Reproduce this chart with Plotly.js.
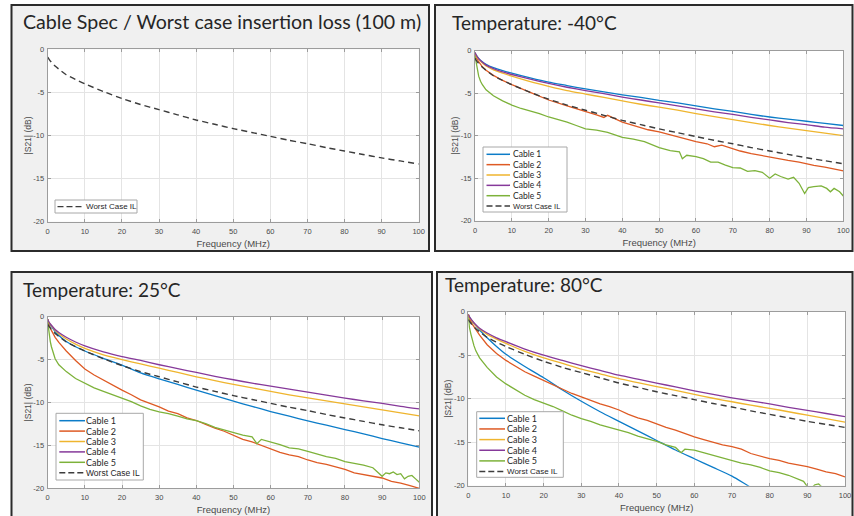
<!DOCTYPE html>
<html>
<head>
<meta charset="utf-8">
<script src="https://cdn.plot.ly/plotly-3.0.1.min.js"></script>
<style>html,body{margin:0;padding:0;background:#fff;}#chart{width:854px;height:516px;}</style>
</head>
<body>
<div id="chart"></div>
<script>
// ---------------- data ----------------
const seriesNames = ['Cable 1', 'Cable 2', 'Cable 3', 'Cable 4', 'Cable 5', 'Worst Case IL'];
const panelTitles = ['Cable Spec / Worst case insertion loss (100 m)', 'Temperature: -40°C', 'Temperature: 25°C', 'Temperature: 80°C'];
const xAxisTitle = 'Frequency (MHz)';
const yAxisTitle = '|S21| (dB)';
const xTickVals = [0, 10, 20, 30, 40, 50, 60, 70, 80, 90, 100];
const yTickVals = [-20, -15, -10, -5, 0];
const yTickText = ['-20', '-15', '-10', '-5', '0'];

const freqSmooth = [0, 0.3, 1, 2, 3, 5, 7.5, 10, 15, 20, 25, 30, 35, 40, 45, 50, 55, 60, 65, 70, 75, 80, 85, 90, 95, 100];
const worstCaseIL = [-0.9, -1.1, -1.5, -1.95, -2.3, -2.95, -3.5, -4.0, -4.9, -5.7, -6.4, -7.0, -7.6, -8.2, -8.7, -9.2, -9.65, -10.1, -10.55, -10.95, -11.4, -11.8, -12.2, -12.6, -12.95, -13.3];

// -40 °C
const coldCable1 = [-0.2, -0.5, -0.9, -1.3, -1.6, -2.0, -2.35, -2.65, -3.2, -3.7, -4.1, -4.5, -4.85, -5.2, -5.5, -5.85, -6.15, -6.5, -6.85, -7.15, -7.5, -7.8, -8.05, -8.3, -8.55, -8.8];
const coldCable3 = [-0.2, -0.55, -1.0, -1.45, -1.8, -2.25, -2.65, -3.0, -3.65, -4.2, -4.7, -5.1, -5.5, -5.9, -6.3, -6.65, -7.0, -7.4, -7.75, -8.1, -8.45, -8.8, -9.1, -9.4, -9.7, -10.0];
const coldCable4 = [-0.2, -0.5, -0.95, -1.35, -1.7, -2.1, -2.5, -2.8, -3.35, -3.85, -4.3, -4.7, -5.05, -5.45, -5.8, -6.15, -6.5, -6.85, -7.2, -7.5, -7.85, -8.15, -8.45, -8.7, -9.0, -9.2];
const coldCable2Freq = [0, 0.3, 1, 2, 3, 5, 7.5, 10, 15, 20, 25, 30, 33, 35, 36, 40, 44, 47, 50, 53, 56, 60, 63, 65, 67, 70, 72, 75, 78, 82, 85, 88, 92, 95, 98, 100];
const coldCable2 = [-0.3, -0.8, -1.3, -1.9, -2.3, -2.9, -3.5, -4.0, -4.9, -5.8, -6.5, -7.1, -7.55, -7.85, -7.6, -8.4, -8.9, -9.3, -9.55, -9.9, -10.3, -10.7, -10.95, -11.3, -11.1, -11.55, -11.8, -12.1, -12.35, -12.7, -12.9, -13.1, -13.5, -13.7, -13.95, -14.15];
const coldCable5Freq = [0, 0.3, 0.7, 1, 1.5, 2, 3, 5, 7.5, 10, 12.5, 15, 17.5, 20, 22.5, 25, 27.5, 30, 33, 36, 40, 43, 46, 50, 53, 55.5, 56.3, 57.5, 60, 62, 64, 66, 68, 70, 72, 74, 76, 78, 80, 81.5, 83, 85, 86.5, 88, 89.5, 90.5, 92, 94, 95.5, 96.5, 97.5, 99, 100];
const coldCable5 = [-0.6, -1.5, -2.4, -3.0, -3.6, -4.0, -4.6, -5.3, -5.9, -6.4, -6.8, -7.1, -7.4, -7.8, -8.1, -8.4, -8.8, -9.2, -9.35, -9.6, -10.2, -10.4, -10.7, -11.4, -11.75, -11.9, -12.7, -12.3, -12.45, -12.7, -13.1, -13.1, -13.45, -13.75, -13.8, -14.2, -14.1, -14.3, -15.0, -14.5, -14.8, -15.1, -14.9, -15.6, -16.8, -16.1, -16.0, -15.9, -16.2, -16.6, -16.2, -16.6, -17.1];

// 25 °C
const roomCable1 = [-0.3, -0.7, -1.15, -1.75, -2.2, -2.9, -3.5, -4.0, -4.85, -5.65, -6.55, -7.25, -7.9, -8.55, -9.2, -9.85, -10.45, -11.05, -11.6, -12.15, -12.65, -13.15, -13.65, -14.2, -14.7, -15.2];
const roomCable3 = [-0.3, -0.65, -1.05, -1.6, -2.0, -2.6, -3.2, -3.7, -4.45, -5.0, -5.5, -6.0, -6.5, -7.0, -7.45, -7.9, -8.3, -8.7, -9.1, -9.45, -9.8, -10.15, -10.5, -10.85, -11.2, -11.55];
const roomCable4 = [-0.3, -0.6, -1.0, -1.5, -1.85, -2.4, -2.95, -3.4, -4.1, -4.65, -5.1, -5.6, -6.05, -6.5, -6.95, -7.35, -7.75, -8.1, -8.45, -8.8, -9.15, -9.5, -9.8, -10.1, -10.45, -10.75];
const roomCable2Freq = [0, 0.3, 1, 2, 3, 5, 7.5, 10, 12.5, 15, 17.5, 20, 22.5, 25, 27.5, 30, 32.5, 35, 37.5, 40, 42.5, 45, 47.5, 50, 52.5, 55, 57.5, 60, 62.5, 65, 67.5, 70, 72.5, 75, 77.5, 80, 82.5, 85, 87.5, 90, 92.5, 95, 97.5, 100];
const roomCable2 = [-0.3, -0.9, -1.6, -2.4, -3.0, -4.0, -5.1, -6.1, -6.8, -7.4, -8.0, -8.55, -9.1, -9.7, -10.1, -10.5, -11.0, -11.3, -11.8, -12.1, -12.55, -13.0, -13.35, -13.8, -14.3, -14.6, -15.0, -15.4, -15.8, -16.1, -16.3, -16.7, -17.0, -17.2, -17.5, -17.8, -18.2, -18.4, -18.6, -18.8, -19.2, -19.4, -19.7, -20.0];
const roomCable5Freq = [0, 0.3, 0.7, 1, 1.5, 2, 3, 5, 7.5, 10, 12.5, 15, 17.5, 20, 22.5, 25, 27.5, 30, 32.5, 35, 37.5, 40, 42.5, 45, 47.5, 50, 52.5, 55, 56.3, 57.5, 60, 62.5, 65, 67.5, 70, 72.5, 75, 77.5, 80, 82.5, 85, 87.5, 89, 90, 91, 92, 93, 94, 95, 96, 97, 98, 99, 100];
const roomCable5 = [-0.6, -1.8, -2.9, -3.5, -4.3, -4.9, -5.6, -6.4, -7.2, -7.8, -8.3, -8.7, -9.1, -9.5, -9.9, -10.4, -10.8, -11.1, -11.3, -11.6, -11.9, -12.1, -12.45, -12.9, -13.2, -13.5, -13.8, -14.0, -14.8, -14.3, -14.6, -14.9, -15.3, -15.4, -15.7, -16.0, -16.3, -16.5, -16.9, -17.1, -17.3, -17.6, -18.2, -18.6, -18.2, -18.3, -18.1, -18.4, -18.3, -18.9, -18.6, -18.5, -18.9, -19.3];

// 80 °C
const hotCable1 = [-0.3, -0.6, -1.1, -1.6, -2.1, -3.0, -4.0, -4.9, -6.3, -7.6, -9.0, -10.3, -11.5, -12.6, -13.7, -14.8, -15.9, -16.9, -17.9, -18.9, -20.2, -21.4, -22.5, -23.6, -24.6, -25.6];
const hotCable3 = [-0.3, -0.65, -1.05, -1.6, -2.0, -2.6, -3.15, -3.65, -4.55, -5.3, -5.95, -6.6, -7.15, -7.7, -8.15, -8.6, -9.05, -9.5, -9.95, -10.35, -10.75, -11.1, -11.5, -11.9, -12.3, -12.7];
const hotCable4 = [-0.3, -0.6, -1.0, -1.5, -1.9, -2.45, -3.0, -3.45, -4.3, -5.0, -5.6, -6.2, -6.75, -7.3, -7.75, -8.2, -8.65, -9.1, -9.5, -9.9, -10.25, -10.6, -11.0, -11.35, -11.7, -12.05];
const hotCable2Freq = [0, 0.3, 1, 2, 3, 5, 7.5, 10, 12.5, 15, 17.5, 20, 22.5, 25, 27.5, 30, 32.5, 35, 37.5, 40, 42.5, 45, 47.5, 50, 52.5, 55, 57.5, 60, 62.5, 65, 67.5, 70, 72.5, 75, 77.5, 80, 82.5, 85, 87.5, 90, 92.5, 95, 97.5, 100];
const hotCable2 = [-0.3, -0.8, -1.4, -2.1, -2.7, -3.8, -4.8, -5.6, -6.3, -6.9, -7.4, -7.9, -8.4, -8.9, -9.4, -9.8, -10.2, -10.6, -10.9, -11.3, -11.8, -12.2, -12.5, -12.9, -13.3, -13.6, -14.0, -14.4, -14.7, -15.0, -15.3, -15.5, -15.8, -16.3, -16.6, -16.9, -17.1, -17.4, -17.6, -17.8, -18.1, -18.4, -18.6, -19.0];
const hotCable5Freq = [0, 0.3, 0.7, 1, 1.5, 2, 3, 5, 7.5, 10, 12.5, 15, 17.5, 20, 22.5, 25, 27.5, 30, 32.5, 35, 37.5, 40, 42.5, 45, 47.5, 50, 52.5, 55, 56.5, 57.5, 60, 62.5, 65, 67.5, 70, 72.5, 75, 77.5, 80, 82.5, 85, 87.5, 89, 90, 91, 92, 93, 94, 95, 97, 100];
const hotCable5 = [-0.6, -1.8, -2.6, -3.2, -3.9, -4.5, -5.3, -6.4, -7.5, -8.3, -9.0, -9.6, -10.1, -10.5, -10.9, -11.4, -11.9, -12.3, -12.6, -13.0, -13.3, -13.6, -13.9, -14.3, -14.6, -14.9, -15.3, -15.6, -16.2, -15.8, -15.9, -16.2, -16.5, -16.8, -17.1, -17.4, -17.6, -17.9, -18.3, -18.5, -18.8, -19.2, -19.5, -20.1, -20.3, -19.9, -19.8, -20.2, -20.1, -20.5, -21.0];

// ---------------- styling / layout ----------------
const W = 854, H = 516;
const px = v => v / W;
const py = v => 1 - v / H;
const colors = ['#0c7cc8', '#de5a24', '#efb52e', '#86399a', '#7db23a', '#3c3c3c'];
const FONT_SANS = 'Liberation Sans, Arial, sans-serif';
const FONT_TITLE = 'Lato, Open Sans, sans-serif';

const panels = [
  { plot: [47.7, 49.3, 418.7, 221.7], frame: [11.5, 5, 429, 251], title: [23, 22, 19.6],
    legend: { box: [55, 200, 137, 213], y0: 206.6, dy: 10.4, line: [57.5, 84], tx: 85.5, fc: 8.5, fw: 8 },
    series: [[freqSmooth, worstCaseIL, 5]] },
  { plot: [475, 50.7, 843.3, 220.7], frame: [435, 5, 852.5, 251], title: [451.5, 23, 19],
    legend: { box: [483, 147, 567, 212], y0: 154.3, dy: 10.35, line: [486.5, 510], tx: 512.5, fc: 8.5, fw: 7.5 },
    series: [[freqSmooth, coldCable1, 0], [coldCable2Freq, coldCable2, 1], [freqSmooth, coldCable3, 2], [freqSmooth, coldCable4, 3], [coldCable5Freq, coldCable5, 4], [freqSmooth, worstCaseIL, 5]] },
  { plot: [47.7, 316.7, 419.3, 488.3], frame: [11.5, 272, 432, 522], title: [23, 289, 19],
    legend: { box: [56, 413.3, 143.3, 480], y0: 420.7, dy: 10.4, line: [59.3, 85], tx: 86, fc: 9, fw: 8.5 },
    series: [[freqSmooth, roomCable1, 0], [roomCable2Freq, roomCable2, 1], [freqSmooth, roomCable3, 2], [freqSmooth, roomCable4, 3], [roomCable5Freq, roomCable5, 4], [freqSmooth, worstCaseIL, 5]] },
  { plot: [468.3, 311.7, 845, 485.7], frame: [437, 272, 852.5, 522], title: [445, 284, 19],
    legend: { box: [476.7, 411.7, 563.3, 477.3], y0: 418.3, dy: 10.65, line: [479.3, 505], tx: 506.7, fc: 9, fw: 8 },
    series: [[freqSmooth, hotCable1, 0], [hotCable2Freq, hotCable2, 1], [freqSmooth, hotCable3, 2], [freqSmooth, hotCable4, 3], [hotCable5Freq, hotCable5, 4], [freqSmooth, worstCaseIL, 5]] }
];

const traces = [];
const layout = {
  width: W, height: H,
  margin: { l: 0, r: 0, t: 0, b: 0 },
  paper_bgcolor: '#ffffff', plot_bgcolor: '#ffffff',
  showlegend: false,
  shapes: [], annotations: []
};

panels.forEach((p, i) => {
  const n = i === 0 ? '' : String(i + 1);
  const xa = 'xaxis' + n, ya = 'yaxis' + n;
  const [x0, y0, x1, y1] = p.plot;
  const axCommon = {
    showline: true, linecolor: '#9c9c9c', linewidth: 1, mirror: 'ticks',
    ticks: 'inside', ticklen: 3, tickcolor: '#9c9c9c',
    showgrid: true, gridcolor: '#e4e4e4', gridwidth: 1, zeroline: false,
    tickfont: { family: FONT_SANS, size: 7.5, color: '#4a4a4a' },
    fixedrange: true
  };
  layout[xa] = Object.assign({}, axCommon, {
    domain: [px(x0), px(x1)], anchor: 'y' + n, range: [0, 100],
    tickvals: xTickVals, ticklabelstandoff: 2,
    title: { text: xAxisTitle, font: { family: FONT_SANS, size: 9.5, color: '#4a4a4a' }, standoff: 5 }
  });
  layout[ya] = Object.assign({}, axCommon, {
    domain: [py(y1), py(y0)], anchor: 'x' + n, range: [-20, 0],
    tickvals: yTickVals, ticktext: yTickText, ticklabelstandoff: 1,
    title: { text: yAxisTitle, font: { family: FONT_SANS, size: 8.5, color: '#4a4a4a' }, standoff: 0 }
  });

  // panel frame (grey figure background)
  layout.shapes.push({ type: 'rect', xref: 'paper', yref: 'paper', layer: 'below',
    x0: px(p.frame[0]), x1: px(p.frame[2]), y0: py(p.frame[3]), y1: py(p.frame[1]),
    fillcolor: '#f0f0f0', line: { color: '#2b2b2b', width: 2 } });
  // white plot area (subplot domain)
  layout.shapes.push({ type: 'rect', xref: 'x' + n + ' domain', yref: 'y' + n + ' domain', layer: 'below',
    x0: 0, x1: 1, y0: 0, y1: 1, fillcolor: '#ffffff', line: { width: 0 } });
  // panel title
  layout.annotations.push({ xref: 'paper', yref: 'paper', x: px(p.title[0]), y: py(p.title[1]),
    xanchor: 'left', yanchor: 'middle', showarrow: false, borderpad: 0, borderwidth: 0,
    text: panelTitles[i], font: { family: FONT_TITLE, size: p.title[2], color: '#262626' } });

  // traces
  p.series.forEach(([fx, fy, k]) => {
    const isWC = k === 5;
    traces.push({
      type: 'scatter', mode: 'lines', x: fx, y: fy, name: seriesNames[k],
      xaxis: 'x' + n, yaxis: 'y' + n, showlegend: false, hoverinfo: 'skip', cliponaxis: true,
      line: { color: colors[k], width: isWC ? 1.4 : 1.3, dash: isWC ? '6px,4px' : 'solid',
              shape: (fx === freqSmooth) ? 'spline' : 'linear', smoothing: 0.6 }
    });
  });

  // legend box (drawn on top of traces)
  const L = p.legend;
  layout.shapes.push({ type: 'rect', xref: 'paper', yref: 'paper', layer: 'above',
    x0: px(L.box[0]), x1: px(L.box[2]), y0: py(L.box[3]), y1: py(L.box[1]),
    fillcolor: '#ffffff', line: { color: '#a8a8a8', width: 1 } });
  p.series.forEach(([fx, fy, k], r) => {
    const ry = L.y0 + r * L.dy;
    const isWC = k === 5;
    layout.shapes.push({ type: 'line', xref: 'paper', yref: 'paper', layer: 'above',
      x0: px(L.line[0]), x1: px(L.line[1]), y0: py(ry), y1: py(ry),
      line: { color: colors[k], width: isWC ? 1.4 : 1.5, dash: isWC ? '6px,3px' : 'solid' } });
    layout.annotations.push({ xref: 'paper', yref: 'paper', x: px(L.tx), y: py(ry),
      xanchor: 'left', yanchor: 'middle', showarrow: false, borderpad: 0, borderwidth: 0,
      text: seriesNames[k],
      font: isWC ? { family: FONT_SANS, size: L.fw, color: '#262626' } : { family: FONT_TITLE, size: L.fc, color: '#262626' } });
  });
});

Plotly.newPlot('chart', traces, layout, { displayModeBar: false, staticPlot: true });
</script>
</body>
</html>
